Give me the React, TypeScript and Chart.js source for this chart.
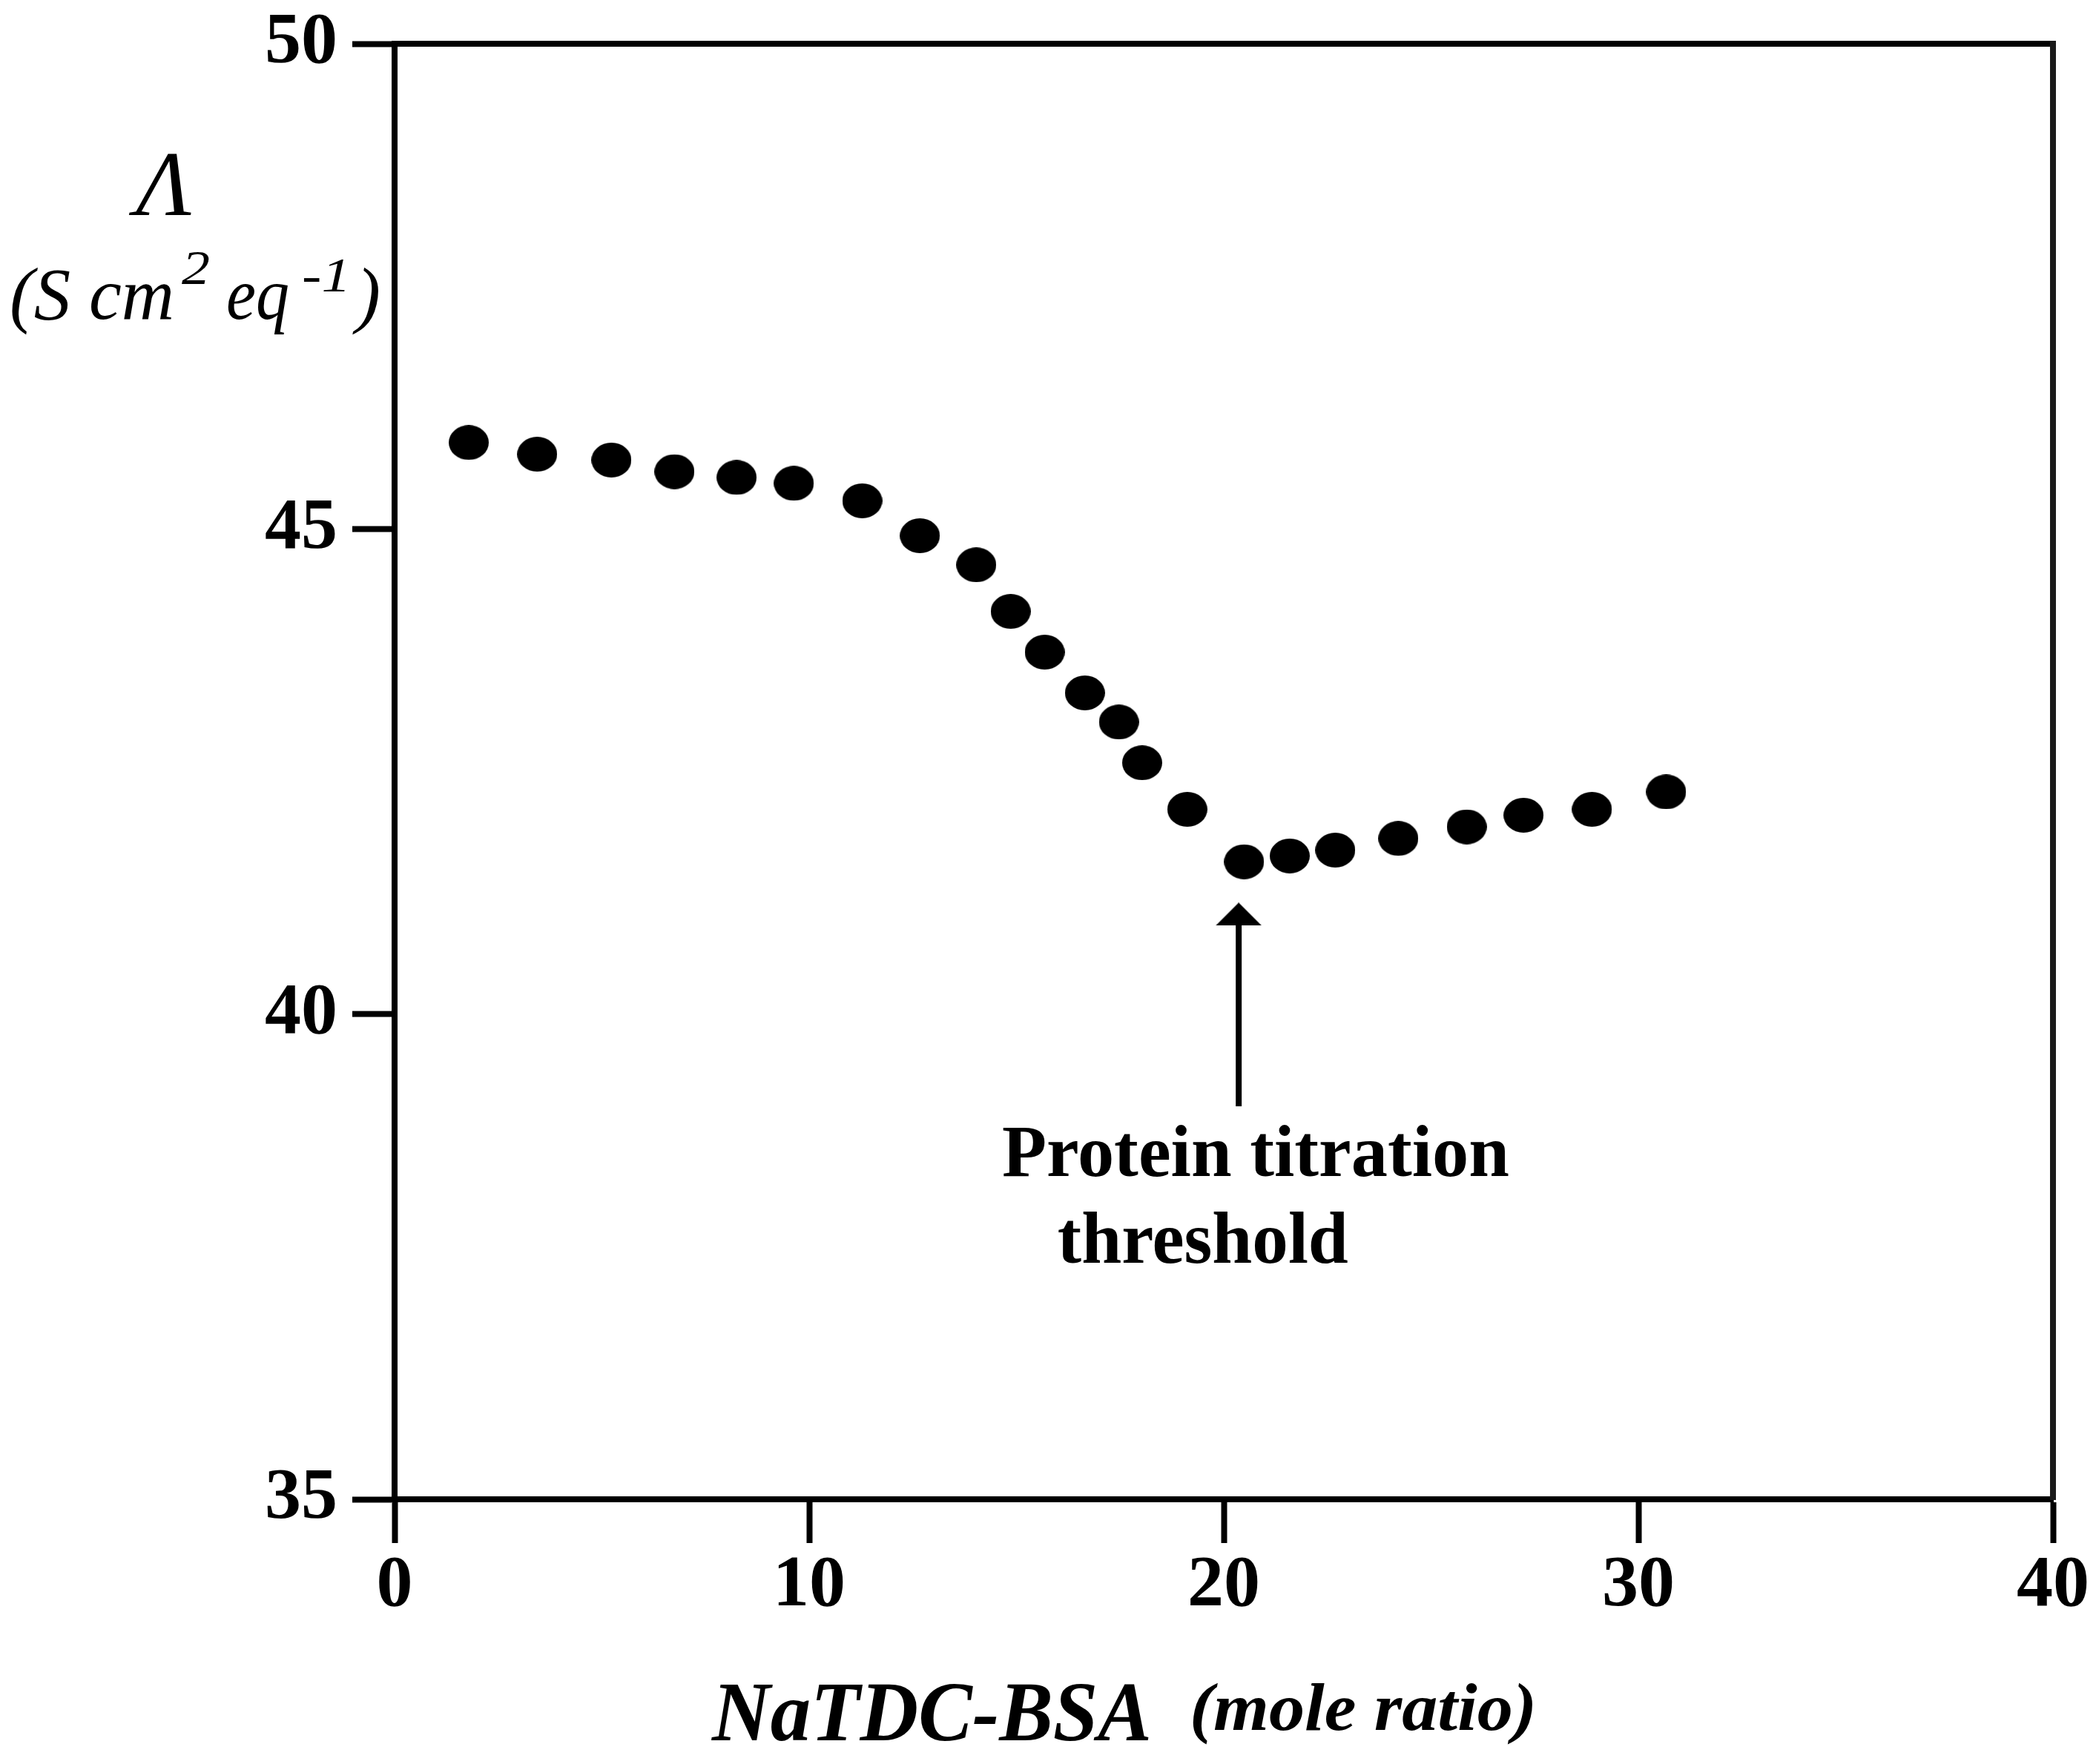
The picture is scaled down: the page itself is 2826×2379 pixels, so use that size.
import React, { useEffect, useRef } from "react";
import { Chart, registerables } from "chart.js";

Chart.register(...registerables);

// NaTDC-BSA mole ratio (x) and molar conductance Λ (y)
const moleRatio = [1.79, 3.44, 5.23, 6.75, 8.25, 9.63, 11.28, 12.67, 14.03, 14.86, 15.68, 16.65, 17.47, 18.03, 19.12, 20.49, 21.59, 22.69, 24.21, 25.86, 27.23, 28.88, 30.67];
const conductance = [45.89, 45.77, 45.71, 45.59, 45.53, 45.47, 45.29, 44.93, 44.63, 44.15, 43.73, 43.31, 43.01, 42.59, 42.11, 41.57, 41.63, 41.69, 41.81, 41.93, 42.05, 42.11, 42.29];

// arrow marking the protein titration threshold
const arrowX = [20.36, 20.36];
const arrowY = [39.05, 41.03];

const xTicks = [0, 10, 20, 30, 40];
const yTicks = [35, 40, 45, 50];

const annotationLines = ["Protein titration", "threshold"];

const SERIF = '"Liberation Serif", "Times New Roman", serif';

function fitText(ctx: CanvasRenderingContext2D, text: string, left: number, baseline: number, font: string, width: number) {
  ctx.save();
  ctx.font = font;
  const w = ctx.measureText(text).width;
  ctx.translate(left, baseline);
  ctx.scale(width / w, 1);
  ctx.textAlign = "left";
  ctx.textBaseline = "alphabetic";
  ctx.fillStyle = "#000";
  ctx.fillText(text, 0, 0);
  ctx.restore();
}

function makeDot(): HTMLCanvasElement {
  const c = document.createElement("canvas");
  c.width = 54;
  c.height = 47;
  const g = c.getContext("2d")!;
  g.fillStyle = "#000";
  g.beginPath();
  g.ellipse(27, 23.5, 27, 23.5, 0, 0, Math.PI * 2);
  g.fill();
  return c;
}

function makeArrowHead(): HTMLCanvasElement {
  const c = document.createElement("canvas");
  c.width = 62;
  c.height = 31;
  const g = c.getContext("2d")!;
  g.fillStyle = "#000";
  g.beginPath();
  g.moveTo(31, 0);
  g.lineTo(62, 31);
  g.lineTo(0, 31);
  g.closePath();
  g.fill();
  return c;
}

const textPlugin = {
  id: "textPlugin",
  afterDraw(chart: any) {
    const ctx = chart.ctx as CanvasRenderingContext2D;
    const xs = chart.scales.x;
    const ys = chart.scales.y;
    // y-axis title
    ctx.save();
    ctx.font = `italic 124px ${SERIF}`;
    ctx.textAlign = "center";
    ctx.fillStyle = "#000";
    ctx.fillText("Λ", 221, 290);
    ctx.restore();
    fitText(ctx, "(S cm", 13, 430, `italic 100px ${SERIF}`, 222);
    fitText(ctx, "2", 245, 383, `italic 66px ${SERIF}`, 38);
    fitText(ctx, "eq", 305, 430, `italic 100px ${SERIF}`, 85);
    fitText(ctx, "-1", 407, 393, `italic 66px ${SERIF}`, 66);
    fitText(ctx, ")", 480, 430, `italic 100px ${SERIF}`, 33);

    // x-axis title
    fitText(ctx, "NaTDC-BSA", 960, 2347, `italic bold 114px ${SERIF}`, 593);
    fitText(ctx, "(mole ratio)", 1604, 2333, `italic bold 92px ${SERIF}`, 468);

    // annotation text anchored to data coordinates
    const l1x = xs.getPixelForValue(14.65);
    const l1y = ys.getPixelForValue(38.33);
    const l2x = xs.getPixelForValue(15.99);
    const l2y = ys.getPixelForValue(37.44);
    fitText(ctx, annotationLines[0], l1x, l1y, `bold 100px ${SERIF}`, 684);
    fitText(ctx, annotationLines[1], l2x, l2y, `bold 100px ${SERIF}`, 392);
  },
};

export default function App() {
  const ref = useRef<HTMLCanvasElement | null>(null);

  useEffect(() => {
    document.body.style.margin = "0";
    const canvas = ref.current!;
    const dot = makeDot();
    const head = makeArrowHead();

    const chart = new Chart(canvas, {
      type: "scatter",
      data: {
        datasets: [
          {
            label: "Λ",
            data: moleRatio.map((x, i) => ({ x, y: conductance[i] })),
            pointStyle: dot as any,
            pointRadius: 25,
            backgroundColor: "#000",
            borderColor: "#000",
            showLine: false,
          },
          {
            label: "arrow",
            data: arrowX.map((x, i) => ({ x, y: arrowY[i] })),
            showLine: true,
            borderColor: "#000",
            borderWidth: 8,
            pointStyle: ["circle", head] as any,
            pointRadius: [0, 16],
            backgroundColor: "#000",
          } as any,
        ],
      },
      options: {
        animation: false,
        responsive: false,
        devicePixelRatio: 1,
        events: [],
        layout: { padding: { top: 59, right: 58, left: 0, bottom: 0 } },
        plugins: { legend: { display: false }, tooltip: { enabled: false } },
        scales: {
          x: {
            type: "linear",
            position: "bottom",
            min: 0,
            max: 40,
            afterBuildTicks: (s: any) => {
              s.ticks = xTicks.map((v) => ({ value: v }));
            },
            afterFit: (s: any) => {
              s.height = 357;
              s.paddingLeft = 0;
              s.paddingRight = 0;
            },
            ticks: {
              color: "#000",
              font: { family: SERIF, size: 98, weight: "bold" },
              padding: 0,
              maxRotation: 0,
            },
            grid: {
              display: true,
              drawOnChartArea: false,
              drawTicks: true,
              tickLength: 59,
              tickWidth: 8,
              tickColor: "#000",
            },
            border: { display: true, color: "#000", width: 8 },
          },
          y: {
            type: "linear",
            position: "left",
            min: 35,
            max: 50,
            afterBuildTicks: (s: any) => {
              s.ticks = yTicks.map((v) => ({ value: v }));
            },
            afterFit: (s: any) => {
              s.width = 532;
              s.paddingTop = 0;
              s.paddingBottom = 0;
            },
            ticks: {
              color: "#000",
              font: { family: SERIF, size: 98, weight: "bold" },
              padding: 20,
            },
            grid: {
              display: true,
              drawOnChartArea: false,
              drawTicks: true,
              tickLength: 57,
              tickWidth: 8,
              tickColor: "#000",
            },
            border: { display: true, color: "#000", width: 8 },
          },
          x2: {
            type: "linear",
            position: "top",
            min: 0,
            max: 40,
            ticks: { display: false },
            grid: { display: false, drawTicks: false },
            border: { display: true, color: "#000", width: 8 },
            afterFit: (s: any) => {
              s.height = 0;
              s.paddingLeft = 0;
              s.paddingRight = 0;
            },
          },
          y2: {
            type: "linear",
            position: "right",
            min: 35,
            max: 50,
            ticks: { display: false },
            grid: { display: false, drawTicks: false },
            border: { display: true, color: "#1a1a1a", width: 8 },
            afterFit: (s: any) => {
              s.width = 0;
              s.paddingTop = 0;
              s.paddingBottom = 0;
            },
          },
        },
      },
      plugins: [textPlugin],
    } as any);

    return () => chart.destroy();
  }, []);

  return (
    <div style={{ background: "#fff" }}>
      <canvas ref={ref} width={2826} height={2379} style={{ display: "block" }} />
    </div>
  );
}
